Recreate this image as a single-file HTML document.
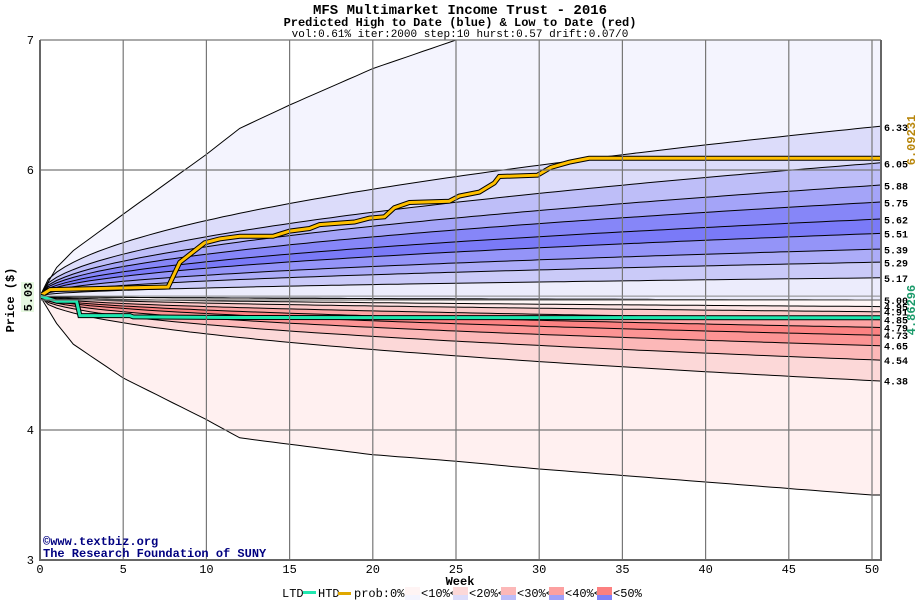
<!DOCTYPE html>
<html><head><meta charset="utf-8"><style>
body{margin:0;background:#fff;}
svg text{font-family:"Liberation Mono",monospace;}
</style></head><body>
<svg id="chart" width="920" height="600" xmlns="http://www.w3.org/2000/svg">
<text x="460" y="14" text-anchor="middle" font-size="14" font-weight="bold">MFS Multimarket Income Trust - 2016</text>
<text x="460" y="26" text-anchor="middle" font-size="12" font-weight="bold">Predicted High to Date (blue) &amp;  Low to Date (red)</text>
<text x="460" y="37" text-anchor="middle" font-size="11">vol:0.61% iter:2000 step:10 hurst:0.57 drift:0.07/0</text>
<g id="plot"></g>
<text x="14" y="300" transform="rotate(-90 14 300)" text-anchor="middle" font-size="12" font-weight="bold">Price ($)</text>
<rect x="21" y="282" width="13" height="30" fill="#e6f8e0"/>
<text x="32" y="297" transform="rotate(-90 32 297)" text-anchor="middle" font-size="12" font-weight="bold">5.03</text>
<text x="460" y="585" text-anchor="middle" font-size="12" font-weight="bold">Week</text>
<text x="915" y="140" transform="rotate(-90 915 140)" text-anchor="middle" font-size="12" font-weight="bold" fill="#b8860b">6.09231</text>
<text x="915" y="310" transform="rotate(-90 915 310)" text-anchor="middle" font-size="12" font-weight="bold" fill="#1a9a6a">4.86296</text>
<g>
<text x="43" y="545" font-size="12" font-weight="bold" fill="#000080">©www.textbiz.org</text>
<text x="43" y="557" font-size="12" font-weight="bold" fill="#000080">The Research Foundation of SUNY</text>
</g>
<g id="legend"></g>
</svg>
<script>
const weeksOuter=[0,1,2,5,10,12,15,20,25,30,40,50];
const upperOuter=[5.03,5.25,5.38,5.66,6.12,6.32,6.50,6.78,7.00,7.15,7.4,7.6];
const lowerOuter=[5.03,4.82,4.66,4.40,4.08,3.94,3.89,3.81,3.76,3.70,3.60,3.50];
const upperEnds=[6.33,6.05,5.88,5.75,5.62,5.51,5.39,5.29,5.17,5.00];
const lowerEnds=[4.95,4.91,4.85,4.79,4.73,4.65,4.54,4.38];
const upperFills=["#f4f4fe","#dcdcfa","#bebef8","#a4a4f8","#8686f8","#7a7af8","#9494f8","#acacf8","#cacaf8","#ececfc"];
const lowerFills=["#fff6f6","#fde4e4","#fcc8c8","#fca4a4","#fc8282","#fc9494","#fcb8b8","#fcd8d8","#fff0f0"];
const htdWeeks=[0,0.6,7.7,8.4,9.9,10.8,12,14.0,15,16.2,16.8,18.9,19.8,20.7,21.3,22.2,24.6,25.2,26.4,27.3,27.6,29.9,30.7,31.8,33.0,50.5];
const htdVals=[5.03,5.08,5.10,5.29,5.44,5.47,5.49,5.49,5.53,5.55,5.58,5.60,5.63,5.64,5.71,5.75,5.76,5.80,5.83,5.90,5.95,5.96,6.02,6.06,6.09,6.09];
const ltdWeeks=[0,1,2.2,2.4,5.4,5.6,11.4,50.5];
const ltdVals=[5.03,4.99,4.99,4.88,4.88,4.87,4.865,4.863];
const yTicks=[3,4,5,6,7];
const xTicks=[0,5,10,15,20,25,30,35,40,45,50];
const NS="http://www.w3.org/2000/svg";
const X0=40,XR=881,Y7=40;
const xs=w=>X0+w*16.64;
const ys=p=>Y7+(7-p)*130;
const plot=document.getElementById('plot');
function mk(tag,attrs,parent){const e=document.createElementNS(NS,tag);for(const k in attrs)e.setAttribute(k,attrs[k]);(parent||plot).appendChild(e);return e;}
const defs=mk('defs',{});
const cp=mk('clipPath',{id:'cp'},defs);mk('rect',{x:X0,y:40,width:XR-X0,height:520},cp);
const g=mk('g',{'clip-path':'url(#cp)'});
const sampleW=[];for(let w=0;w<=50.6;w+=0.5)sampleW.push(w);
function interp(ws,vs,w){for(let i=1;i<ws.length;i++){if(w<=ws[i]){const t=(w-ws[i-1])/(ws[i]-ws[i-1]);return vs[i-1]+t*(vs[i]-vs[i-1]);}}return vs[vs.length-1];}
function fanCurve(end){return sampleW.map(w=>[w,5.03+(end-5.03)*Math.pow(w/50,0.5)]);}
function outer(ws,vs){return sampleW.map(w=>[w,interp(ws,vs,w)]);}
const upCurves=[outer(weeksOuter,upperOuter)].concat(upperEnds.map(fanCurve));
const loCurves=[fanCurve(5.00)].concat(lowerEnds.map(fanCurve)).concat([outer(weeksOuter,lowerOuter)]);
function pts(c){return c.map(([w,v])=>xs(w).toFixed(1)+','+ys(v).toFixed(1));}
function band(a,b,fill,name){const p=pts(a).concat(pts(b).reverse()).join(' ');const e=mk('polygon',{points:p,fill:fill},g);}
mk('rect',{x:X0,y:40,width:XR-X0,height:520,fill:'#fff'},g);
for(let i=0;i<upCurves.length-1;i++)band(upCurves[i],upCurves[i+1],upperFills[i],'upper-band-'+i);
for(let i=0;i<loCurves.length-1;i++)band(loCurves[i],loCurves[i+1],lowerFills[i],'lower-band-'+i);
upCurves.concat(loCurves).forEach((c,i)=>{const e=mk('polyline',{points:pts(c).join(' '),fill:'none',stroke:'#000','stroke-width':1},g);});
xTicks.forEach(t=>{if(t>0){const e=mk('line',{x1:xs(t),x2:xs(t),y1:40,y2:560,stroke:'#777','stroke-width':1.2});}
 const l=mk('text',{x:xs(t),y:573,'text-anchor':'middle','font-size':12});l.textContent=t;});
yTicks.forEach(t=>{const e=mk('line',{x1:X0,x2:XR,y1:ys(t),y2:ys(t),stroke:'#777','stroke-width':1.2});
 const l=mk('text',{x:34,y:ys(t)+4,'text-anchor':'end','font-size':12});l.textContent=t;});
const cur=mk('line',{x1:X0,x2:XR,y1:ys(5.03),y2:ys(5.03),stroke:'#888','stroke-width':1});
function path(ws,vs){const p=[];ws.forEach((w,i)=>p.push(xs(w).toFixed(1)+','+ys(vs[i]).toFixed(1)));return p.join(' ');}
const h1=mk('polyline',{points:path(htdWeeks,htdVals),fill:'none',stroke:'#000','stroke-width':5},g);
const h2=mk('polyline',{points:path(htdWeeks,htdVals),fill:'none',stroke:'#ffc000','stroke-width':3},g);
const l1=mk('polyline',{points:path(ltdWeeks,ltdVals),fill:'none',stroke:'#000','stroke-width':5},g);
const l2=mk('polyline',{points:path(ltdWeeks,ltdVals),fill:'none',stroke:'#20e8b0','stroke-width':3},g);
const ax=mk('polyline',{points:`${X0},40 ${X0},560 ${XR},560 ${XR},40`,fill:'none',stroke:'#666','stroke-width':2});
const rLabels=upperEnds.concat(lowerEnds);
rLabels.forEach(v=>{const t=mk('text',{x:884,y:ys(v)+4,'font-size':10,'font-weight':'bold'});t.textContent=v.toFixed(2);});
const lg=document.getElementById('legend');
function lt(x,s){const t=mk('text',{x:x,y:597,'font-size':12},lg);t.textContent=s;}
lt(282,'LTD');let r=mk('rect',{x:303,y:591,width:13,height:3,fill:'#20e8b0'},lg);
lt(318,'HTD');r=mk('rect',{x:338,y:592,width:13,height:3,fill:'#e0a800'},lg);
lt(354,'prob:0%<');
const legW=[['#fff4f4','#f4f4fe','<10%<'],['#fcd8d8','#dcdcfa','<20%<'],['#fcb8b8','#bcbcf8','<30%<'],['#fca0a0','#a0a0f8','<40%<'],['#fc8080','#8080f8','<50%']];
legW.forEach((c,i)=>{const x=405+i*48;let a=mk('rect',{x:x,y:587,width:15,height:8,fill:c[0]},lg);
 a=mk('rect',{x:x,y:595,width:15,height:8,fill:c[1]},lg);lt(x+16,c[2]);});
</script>
</body></html>
